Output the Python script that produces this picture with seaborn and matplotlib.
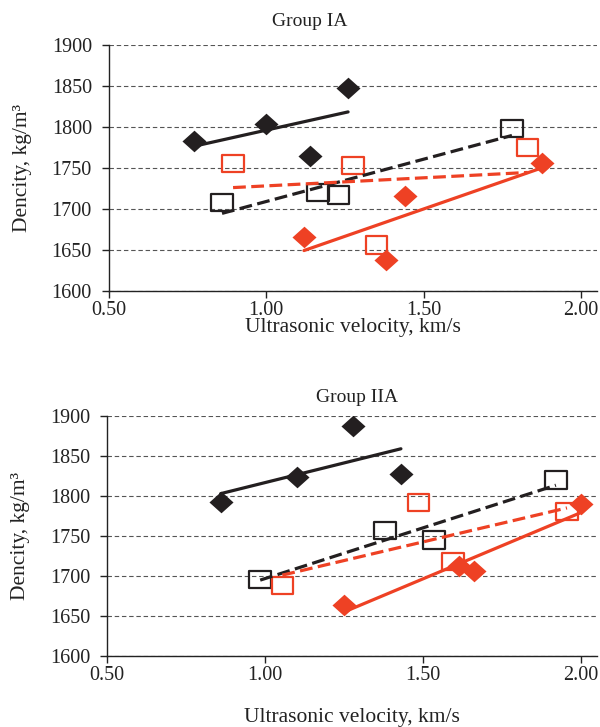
import numpy as np
import seaborn as sns
import matplotlib.pyplot as plt
from matplotlib.path import Path

# Group IA
ia_black_diamond_x = [0.77, 1.00, 1.14, 1.26]
ia_black_diamond_y = [1783, 1804, 1764, 1848]
ia_black_square_x = [0.86, 1.165, 1.23, 1.78]
ia_black_square_y = [1708, 1720, 1717, 1798]
ia_red_square_x = [0.895, 1.275, 1.35, 1.83]
ia_red_square_y = [1755, 1753, 1656, 1775]
ia_red_diamond_x = [1.12, 1.38, 1.44, 1.875]
ia_red_diamond_y = [1666, 1637, 1716, 1756]

# Group IIA
iia_black_diamond_x = [0.86, 1.10, 1.28, 1.43]
iia_black_diamond_y = [1793, 1824, 1888, 1828]
iia_black_square_x = [0.985, 1.38, 1.535, 1.92]
iia_black_square_y = [1696, 1757, 1745, 1820]
iia_red_square_x = [1.055, 1.485, 1.595, 1.955]
iia_red_square_y = [1688, 1792, 1718, 1781]
iia_red_diamond_x = [1.25, 1.615, 1.66, 2.00]
iia_red_diamond_y = [1664, 1713, 1706, 1790]

x_ticks = [0.5, 1.0, 1.5, 2.0]
x_tick_labels = ["0.50", "1.00", "1.50", "2.00"]
y_ticks = [1600, 1650, 1700, 1750, 1800, 1850, 1900]

BLACK = "#231f20"
RED = "#ee4124"
TEXT = "#222222"

sns.set_theme(style="ticks")
plt.rcParams['font.family'] = ['Liberation Serif', 'DejaVu Serif']

# closed marker outlines (slightly wider than tall, as in the source figure)
diamond = Path([(-1, 0), (0, 0.9), (1, 0), (0, -0.9), (-1, 0)], closed=True)
rect = Path([(-1, -0.8), (1, -0.8), (1, 0.8), (-1, 0.8), (-1, -0.8)], closed=True)
dashed = (0, (4.0, 1.7))


def draw_panel(ax, series):
    for x, y, color, filled in series:
        if filled:
            sns.scatterplot(x=x, y=y, ax=ax, marker=diamond, s=300, color=color,
                            edgecolor=color, linewidth=0, zorder=3)
            ls = "-"
        else:
            sns.scatterplot(x=x, y=y, ax=ax, marker=rect, s=240, color=color,
                            facecolor="none", edgecolor=color, linewidth=1.6, zorder=3)
            ls = dashed
        # linear trend line over the data range
        sns.regplot(x=x, y=y, ax=ax, scatter=False, ci=None, color=color,
                    line_kws=dict(lw=2.3, ls=ls, zorder=4))
    ax.set_xlim(0.5, 2.05)
    ax.set_ylim(1600, 1900)
    ax.set_xticks(x_ticks)
    ax.set_xticklabels(x_tick_labels)
    ax.set_yticks(y_ticks)
    ax.yaxis.grid(True, ls=(0, (4, 2.5)), lw=0.8, color="#555555")
    ax.set_axisbelow(True)
    sns.despine(ax=ax)
    for s in ["left", "bottom"]:
        ax.spines[s].set_color(TEXT)
        ax.spines[s].set_linewidth(1.0)
    ax.tick_params(axis="both", labelsize=14.5, length=5, width=1.0, color=TEXT,
                   labelcolor=TEXT)
    ax.tick_params(axis="x", pad=2)
    ax.tick_params(axis="y", pad=7)
    ax.set_xlabel("Ultrasonic velocity, km/s", fontsize=15.5, color=TEXT)
    ax.set_ylabel("Dencity, kg/m³", fontsize=15.5, color=TEXT)
    ax.yaxis.set_label_coords(-0.157, 0.5)


fig = plt.figure(figsize=(6.0, 7.27), dpi=100)
ax1 = fig.add_axes([0.181, 0.6, 0.814, 0.338])
ax2 = fig.add_axes([0.178, 0.0977, 0.817, 0.33])

draw_panel(ax1, [
    (ia_black_diamond_x, ia_black_diamond_y, BLACK, True),
    (ia_black_square_x, ia_black_square_y, BLACK, False),
    (ia_red_square_x, ia_red_square_y, RED, False),
    (ia_red_diamond_x, ia_red_diamond_y, RED, True),
])
draw_panel(ax2, [
    (iia_black_diamond_x, iia_black_diamond_y, BLACK, True),
    (iia_black_square_x, iia_black_square_y, BLACK, False),
    (iia_red_square_x, iia_red_square_y, RED, False),
    (iia_red_diamond_x, iia_red_diamond_y, RED, True),
])
ax1.xaxis.set_label_coords(0.5, -0.112)
ax2.xaxis.set_label_coords(0.5, -0.215)

fig.text(310 / 600, 1 - 22 / 727, "Group IA", ha="center", va="center", fontsize=14, color=TEXT)
fig.text(357 / 600, 1 - 397 / 727, "Group IIA", ha="center", va="center", fontsize=14, color=TEXT)

plt.savefig("out.png", dpi=100)
